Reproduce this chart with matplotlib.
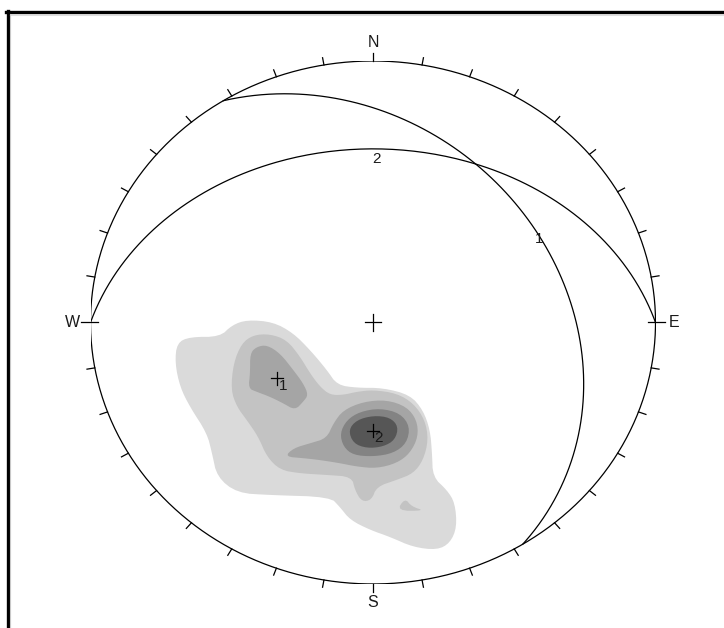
"""
Lower-hemisphere equal-area stereonet: pole density contours,
two mean set poles and their great circles.
"""

import numpy as np
import matplotlib
matplotlib.use('Agg')
import matplotlib.pyplot as plt
from matplotlib.lines import Line2D

plt.rcParams['font.family'] = ['Liberation Sans', 'DejaVu Sans']

# mean set planes (dip direction, dip) in degrees
set_labels = ['1', '2']
set_dip_dirs = [58, 0]
set_dips = [33, 34]

cardinal_labels = ['N', 'E', 'S', 'W']
cardinal_azimuths = [0, 90, 180, 270]

# pole density contours (projected x east, y north, unit circle)
contour_colors = ['#dadada', '#c3c3c3', '#a5a5a5', '#838383', '#565656']

level1 = [(-0.694, -0.078), (-0.648, -0.055), (-0.542, -0.055), (-0.499, -0.010),
          (-0.446, 0.010), (-0.354, 0.002), (-0.283, -0.040), (-0.223, -0.105),
          (-0.163, -0.182), (-0.127, -0.239), (-0.057, -0.250), (0.035, -0.250),
          (0.131, -0.277), (0.177, -0.335), (0.202, -0.411), (0.209, -0.499),
          (0.212, -0.591), (0.262, -0.641), (0.290, -0.690), (0.297, -0.782),
          (0.273, -0.843), (0.227, -0.870), (0.142, -0.859), (0.060, -0.820),
          (-0.011, -0.793), (-0.081, -0.755), (-0.117, -0.706), (-0.152, -0.667),
          (-0.365, -0.660), (-0.481, -0.652), (-0.552, -0.591), (-0.570, -0.499),
          (-0.588, -0.423), (-0.648, -0.323), (-0.683, -0.247), (-0.701, -0.155)]

level2 = [(-0.503, -0.258), (-0.494, -0.156), (-0.465, -0.080), (-0.424, -0.048),
          (-0.365, -0.044), (-0.305, -0.067), (-0.258, -0.131), (-0.223, -0.194),
          (-0.188, -0.245), (-0.152, -0.277), (-0.105, -0.277), (-0.058, -0.265),
          (0.001, -0.258), (0.084, -0.271), (0.143, -0.309), (0.184, -0.373),
          (0.196, -0.449), (0.178, -0.526), (0.143, -0.577), (0.084, -0.602),
          (0.013, -0.628), (-0.005, -0.679), (-0.040, -0.685), (-0.064, -0.641),
          (-0.075, -0.590), (-0.164, -0.583), (-0.258, -0.577), (-0.329, -0.564),
          (-0.376, -0.513), (-0.406, -0.437), (-0.447, -0.373), (-0.482, -0.322)]

level2_patch = [(0.084, -0.720), (0.113, -0.672), (0.137, -0.704), (0.184, -0.720)]

level3_set1 = [(-0.435, -0.118), (-0.412, -0.093), (-0.376, -0.086), (-0.329, -0.118),
               (-0.282, -0.182), (-0.247, -0.233), (-0.229, -0.277), (-0.247, -0.303),
               (-0.276, -0.335), (-0.318, -0.309), (-0.365, -0.284), (-0.412, -0.265),
               (-0.441, -0.252), (-0.435, -0.194)]

level3_set2 = [(-0.312, -0.513), (-0.282, -0.481), (-0.223, -0.462), (-0.164, -0.443),
               (-0.140, -0.385), (-0.105, -0.335), (-0.034, -0.303), (0.048, -0.296),
               (0.119, -0.322), (0.155, -0.373), (0.160, -0.437), (0.131, -0.500),
               (0.084, -0.538), (0.013, -0.558), (-0.058, -0.551), (-0.117, -0.538),
               (-0.188, -0.526), (-0.245, -0.519)]

level4 = [(-0.117, -0.424), (-0.093, -0.373), (-0.046, -0.341), (0.025, -0.328),
          (0.096, -0.347), (0.131, -0.398), (0.119, -0.462), (0.072, -0.500),
          (0.001, -0.513), (-0.070, -0.507), (-0.105, -0.475)]

level5 = [(-0.087, -0.411), (-0.058, -0.373), (0.001, -0.356), (0.060, -0.363),
          (0.090, -0.398), (0.078, -0.449), (0.036, -0.475), (-0.022, -0.481),
          (-0.070, -0.462)]


def equal_area(trend, plunge):
    """Lower hemisphere Schmidt projection, angles in degrees"""
    t = np.radians(trend)
    r = np.sqrt(2) * np.sin(np.radians(90 - np.asarray(plunge)) / 2)
    return r * np.sin(t), r * np.cos(t)


def great_circle(dip_dir, dip, n=200):
    strike = np.radians(dip_dir - 90)
    dd, dp = np.radians(dip_dir), np.radians(dip)
    s = np.array([np.sin(strike), np.cos(strike), 0.0])
    d = np.array([np.sin(dd) * np.cos(dp), np.cos(dd) * np.cos(dp), np.sin(dp)])
    t = np.linspace(0, np.pi, n)
    v = np.outer(np.cos(t), s) + np.outer(np.sin(t), d)
    plunge = np.degrees(np.arcsin(np.clip(v[:, 2], -1, 1)))
    trend = np.degrees(np.arctan2(v[:, 0], v[:, 1]))
    return equal_area(trend, plunge)


def smooth(points, rounds=2):
    """Chaikin corner cutting so traced outlines look like contours"""
    p = np.asarray(points, dtype=float)
    for _ in range(rounds):
        q = np.roll(p, -1, axis=0)
        p = np.column_stack([0.75 * p + 0.25 * q, 0.25 * p + 0.75 * q]).reshape(-1, 2)
    return p


fig = plt.figure(figsize=(7.24, 6.28), dpi=100)
fig.patch.set_facecolor('white')
ax = fig.add_axes([0.125, 0.0701, 0.7804, 0.8328])
ax.set_xlim(-1, 1)
ax.set_ylim(-1, 1)
ax.axis('off')

# density contours
fills = [(level1, 0), (level2, 1), (level2_patch, 1), (level3_set1, 2),
         (level3_set2, 2), (level4, 3), (level5, 4)]
for poly, lvl in fills:
    pts = smooth(poly)
    ax.fill(pts[:, 0], pts[:, 1], color=contour_colors[lvl], lw=0, zorder=1)

# primitive circle
theta = np.linspace(0, 2 * np.pi, 400)
ax.plot(np.cos(theta), np.sin(theta), color='black', lw=0.9, zorder=3)

# azimuth ticks every 10 degrees
for az in range(0, 360, 10):
    a = np.radians(az)
    if az in (90, 270):
        r0, r1 = 0.975, 1.035
    elif az in (0, 180):
        r0, r1 = 1.0, 1.03
    else:
        r0, r1 = 1.0, 1.028
    ax.plot([r0 * np.sin(a), r1 * np.sin(a)], [r0 * np.cos(a), r1 * np.cos(a)],
            color='black', lw=0.9, zorder=3, clip_on=False)

for lab, az in zip(cardinal_labels, cardinal_azimuths):
    a = np.radians(az)
    ax.text(1.065 * np.sin(a), 1.07 * np.cos(a), lab, ha='center', va='center',
            fontsize=11.5, color='#1a1a1a', clip_on=False)

# centre cross
ax.plot([-0.028, 0.028], [0, 0], color='black', lw=0.9, zorder=3)
ax.plot([0, 0], [-0.031, 0.031], color='black', lw=0.9, zorder=3)

# great circles and mean poles
for lab, ddir, dip in zip(set_labels, set_dip_dirs, set_dips):
    gx, gy = great_circle(ddir, dip)
    ax.plot(gx, gy, color='black', lw=0.9, zorder=3)
    lx, ly = equal_area(ddir, dip)
    ax.text(lx + 0.014, ly - 0.038, lab, ha='center', va='center',
            fontsize=11, color='#1a1a1a', zorder=4)

    px, py = equal_area(ddir + 180, 90 - dip)
    ax.plot([px - 0.022, px + 0.022], [py, py], color='black', lw=0.9, zorder=4)
    ax.plot([px, px], [py - 0.025, py + 0.025], color='black', lw=0.9, zorder=4)
    ax.text(px + 0.021, py - 0.03, lab, ha='center', va='center',
            fontsize=11, color='#1a1a1a', zorder=4)

# screenshot frame (top and left edges)
fig.add_artist(Line2D([6 / 724, 1], [1 - 12 / 628] * 2, transform=fig.transFigure,
                      color='black', lw=2.4))
fig.add_artist(Line2D([7.5 / 724] * 2, [0, 1 - 11 / 628], transform=fig.transFigure,
                      color='black', lw=2.4))
fig.add_artist(Line2D([10 / 724, 1], [1 - 14.5 / 628] * 2, transform=fig.transFigure,
                      color='#dddddd', lw=0.8))
fig.add_artist(Line2D([10 / 724] * 2, [0, 1 - 14 / 628], transform=fig.transFigure,
                      color='#c8c8c8', lw=0.8))

plt.savefig('out.png', dpi=100, facecolor='white')
plt.close()
